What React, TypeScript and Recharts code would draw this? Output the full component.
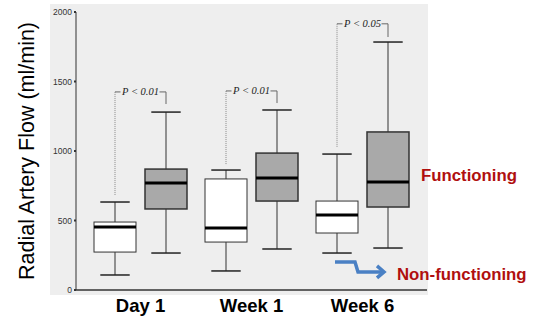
import { ComposedChart, Bar, XAxis, YAxis } from 'recharts';

const groups = ['Day 1', 'Week 1', 'Week 6'];

// non-functioning grafts (white boxes)
const nfLow = [108, 137, 266];
const nfQ1 = [273, 345, 410];
const nfMed = [453, 446, 540];
const nfQ3 = [489, 799, 640];
const nfHigh = [633, 863, 978];

// functioning grafts (grey boxes)
const fLow = [266, 295, 302];
const fQ1 = [583, 640, 597];
const fMed = [770, 806, 777];
const fQ3 = [870, 985, 1137];
const fHigh = [1280, 1295, 1784];

// significance brackets
const pText = ['P < 0.01', 'P < 0.01', 'P < 0.05'];
const pTop = [1425, 1432, 1915];
const pLeftEnd = [683, 899, 1029];
const pRightEnd = [1338, 1345, 1820];

const yTicks = [0, 500, 1000, 1500, 2000];

const BAR = 42;
const GAP = 9;

const data = groups.map((g, i) => ({
  label: g,
  idx: i,
  nf: [nfLow[i], nfHigh[i]],
  f: [fLow[i], fHigh[i]],
  nfStats: { low: nfLow[i], q1: nfQ1[i], med: nfMed[i], q3: nfQ3[i], high: nfHigh[i] },
  fStats: { low: fLow[i], q1: fQ1[i], med: fMed[i], q3: fQ3[i], high: fHigh[i] },
}));

function BoxShape(props: any) {
  const { x, y, width, height, payload, kind } = props;
  const s = kind === 'f' ? payload.fStats : payload.nfStats;
  const k = height / (s.high - s.low);
  const py = (v: number) => y + (s.high - v) * k;
  const cx = x + width / 2;
  const cap = width * 0.35;
  const i = payload.idx;
  const filled = kind === 'f';

  return (
    <g>
      <line x1={cx} x2={cx} y1={py(s.high)} y2={py(s.low)} stroke="#333" strokeWidth={1} />
      <line x1={cx - cap} x2={cx + cap} y1={py(s.high)} y2={py(s.high)} stroke="#222" strokeWidth={1.5} />
      <line x1={cx - cap} x2={cx + cap} y1={py(s.low)} y2={py(s.low)} stroke="#222" strokeWidth={1.5} />
      <rect
        x={x}
        y={py(s.q3)}
        width={width}
        height={py(s.q1) - py(s.q3)}
        fill={filled ? '#a9a9a9' : '#ffffff'}
        stroke="#333"
        strokeWidth={filled ? 1.5 : 1}
      />
      <line x1={x} x2={x + width} y1={py(s.med)} y2={py(s.med)} stroke="#000" strokeWidth={3} />

      {filled && (() => {
        const xl = cx - (width + GAP);
        const xr = cx;
        const mid = (xl + xr) / 2;
        const top = py(pTop[i]);
        return (
          <g>
            <line x1={xl} x2={xl} y1={top} y2={py(pLeftEnd[i])} stroke="#888" strokeWidth={1} strokeDasharray="1 1" />
            <line x1={xl} x2={mid - 20} y1={top} y2={top} stroke="#666" strokeWidth={1} />
            <line x1={mid + 19} x2={xr} y1={top} y2={top} stroke="#666" strokeWidth={1} />
            <line x1={xr} x2={xr} y1={top} y2={py(pRightEnd[i])} stroke="#666" strokeWidth={1} />
            <text
              x={mid}
              y={top}
              dy={3.5}
              textAnchor="middle"
              fontFamily="Liberation Serif"
              fontStyle="italic"
              fontSize={10.5}
              fill="#222"
            >
              {pText[i]}
            </text>
          </g>
        );
      })()}

      {filled && i === 2 && (
        <text
          x={x + width + 12}
          y={py(827)}
          dominantBaseline="central"
          fontFamily="Liberation Sans"
          fontWeight="bold"
          fontSize={16.8}
          fill="#b00f0f"
        >
          Functioning
        </text>
      )}

      {!filled && i === 2 && (
        <g>
          <path
            d={`M ${cx - 2} ${py(201)} H ${cx + 18} L ${cx + 21} ${py(130)} H ${cx + 46}`}
            fill="none"
            stroke="#4a80c4"
            strokeWidth={3.5}
          />
          <path
            d={`M ${cx + 40} ${py(130) - 6} L ${cx + 47} ${py(130)} L ${cx + 40} ${py(130) + 6}`}
            fill="none"
            stroke="#4a80c4"
            strokeWidth={3.5}
          />
          <text
            x={cx + 60}
            y={py(108)}
            dominantBaseline="central"
            fontFamily="Liberation Sans"
            fontWeight="bold"
            fontSize={16.8}
            fill="#b00f0f"
          >
            Non-functioning
          </text>
        </g>
      )}
    </g>
  );
}

function GroupTick(props: any) {
  const { x, y, payload } = props;
  return (
    <text
      x={x}
      y={y}
      dy={16}
      textAnchor="middle"
      fontFamily="Liberation Sans"
      fontWeight="bold"
      fontSize={18.5}
      fill="#000"
    >
      {payload.value}
    </text>
  );
}

function YLabel(props: any) {
  const { viewBox } = props;
  const cy = viewBox.y + viewBox.height / 2;
  return (
    <text
      transform={`translate(27, ${cy}) rotate(-90)`}
      textAnchor="middle"
      dominantBaseline="central"
      fontFamily="Liberation Sans"
      fontSize={21.5}
      fill="#000"
    >
      Radial Artery Flow (ml/min)
    </text>
  );
}

export default function App() {
  return (
    <div style={{ position: 'relative', width: 537, height: 324, background: '#fff' }}>
      <style>{'body{margin:0}'}</style>
      <div
        style={{
          position: 'absolute',
          left: 50,
          top: 4,
          width: 378,
          height: 291,
          background: '#eeeeee',
        }}
      />
      <div style={{ position: 'absolute', left: 0, top: 0 }}>
        <ComposedChart
          width={537}
          height={324}
          data={data}
          margin={{ top: 12, right: 110, bottom: 0, left: 0 }}
          barSize={BAR}
          barGap={GAP}
        >
          <XAxis
            dataKey="label"
            height={34}
            padding={{ left: 9, right: 9 }}
            tickLine={false}
            axisLine={{ stroke: '#333', strokeWidth: 1.5 }}
            tick={<GroupTick />}
            tickMargin={0}
          />
          <YAxis
            width={76}
            domain={[0, 2000]}
            ticks={yTicks}
            tickSize={2}
            tickMargin={2}
            axisLine={{ stroke: '#333', strokeWidth: 1 }}
            tickLine={{ stroke: '#333', strokeWidth: 2 }}
            tick={{ fontSize: 8.5, fill: '#333', fontFamily: 'Liberation Sans' }}
            label={<YLabel />}
          />
          <Bar
            dataKey="nf"
            isAnimationActive={false}
            shape={(p: any) => <BoxShape {...p} kind="nf" />}
          />
          <Bar
            dataKey="f"
            isAnimationActive={false}
            shape={(p: any) => <BoxShape {...p} kind="f" />}
          />
        </ComposedChart>
      </div>
    </div>
  );
}
